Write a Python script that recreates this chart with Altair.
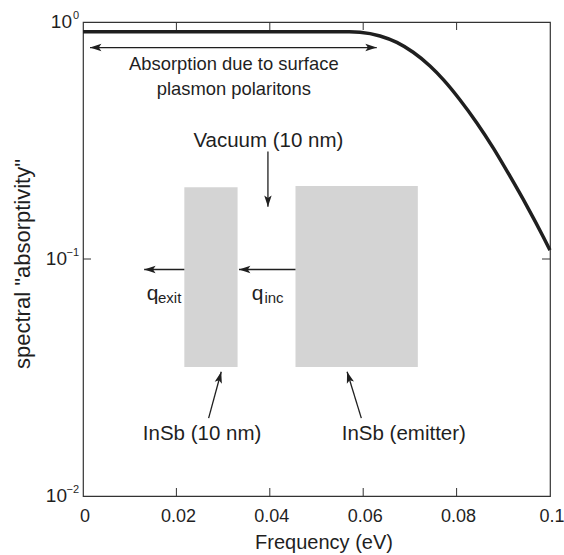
import altair as alt
import pandas as pd

FONT = "Liberation Sans"
INK = "#1f1f1f"
BOX = "#d4d4d4"
W, H = 467, 474

# ---- curve ----
freq = [0.0, 0.01, 0.02, 0.03, 0.04, 0.05, 0.057, 0.0593, 0.0636, 0.0672, 0.0707,
        0.0743, 0.0772, 0.0807, 0.0843, 0.0879, 0.0914, 0.0950, 0.0986, 0.1]
absorptivity = [0.91, 0.91, 0.91, 0.91, 0.91, 0.91, 0.909, 0.905, 0.873, 0.82, 0.745,
                0.652, 0.570, 0.470, 0.376, 0.293, 0.224, 0.168, 0.1236, 0.109]

# ---- axes ----
x_label_vals = [0, 0.02, 0.04, 0.06, 0.08, 0.1]
x_tick_vals = [0.02, 0.04, 0.06, 0.08]
y_tick_vals = [0.1]
y_label_vals = [1, 0.1, 0.01]
y_label_exp = ["0", "\u22121", "\u22122"]

# ---- schematic annotations (data coordinates) ----
box_x1 = [0.0217, 0.0455]
box_x2 = [0.0331, 0.0717]
box_y1 = [0.035, 0.035]
box_y2 = [0.201, 0.203]

seg_x1 = [0.0015, 0.0396, 0.0217, 0.0455, 0.0269, 0.0596]
seg_y1 = [0.78, 0.284, 0.0903, 0.0903, 0.0213, 0.0213]
seg_x2 = [0.0629, 0.0396, 0.0131, 0.0334, 0.0296, 0.05655]
seg_y2 = [0.78, 0.166, 0.0903, 0.0903, 0.03345, 0.03345]

head_x = [0.0015, 0.0629, 0.0396, 0.0131, 0.0334, 0.0296, 0.05655]
head_y = [0.78, 0.78, 0.166, 0.0903, 0.0903, 0.03345, 0.03345]
head_angle = [180, 0, 90, 180, 180, 285, 253]

small_text = ["Absorption due to surface", "plasmon polaritons"]
small_x = [0.0323, 0.0323]
small_y = [0.627, 0.492]

big_text = ["Vacuum (10 nm)", "InSb (10 nm)", "InSb (emitter)"]
big_x = [0.0397, 0.0255, 0.0687]
big_y = [0.2973, 0.01723, 0.01723]

q_x = [0.01366, 0.03615]
q_y = [0.0671, 0.0671]
sub_text = ["exit", "inc"]
sub_x = [0.01606, 0.03884]
sub_y = [0.0652, 0.0652]

xs = alt.Scale(domain=[0, 0.1], nice=False, zero=False)
ys = alt.Scale(type="log", domain=[0.01, 1], nice=False)


def X(field):
    return alt.X(field, type="quantitative", scale=xs, axis=None)


def Y(field):
    return alt.Y(field, type="quantitative", scale=ys, axis=None)


df_curve = pd.DataFrame({"freq": freq, "absorptivity": absorptivity})
df_boxes = pd.DataFrame({"x1": box_x1, "x2": box_x2, "y1": box_y1, "y2": box_y2})
df_seg = pd.DataFrame({"x1": seg_x1, "y1": seg_y1, "x2": seg_x2, "y2": seg_y2})
df_head = pd.DataFrame({"x": head_x, "y": head_y, "ang": head_angle})
df_small = pd.DataFrame({"t": small_text, "x": small_x, "y": small_y})
df_big = pd.DataFrame({"t": big_text, "x": big_x, "y": big_y})
df_q = pd.DataFrame({"t": ["q", "q"], "x": q_x, "y": q_y})
df_sub = pd.DataFrame({"t": sub_text, "x": sub_x, "y": sub_y})
df_xt = pd.DataFrame({"v": x_tick_vals})
df_xl = pd.DataFrame({"v": x_label_vals})
df_yt = pd.DataFrame({"v": y_tick_vals})
df_yl = pd.DataFrame({"v": y_label_vals, "sup": y_label_exp})

ARROW = "M0,0 L-2,-0.65 L-1.55,0 L-2,0.65 Z"

curve = alt.Chart(df_curve).mark_line(color=INK, strokeWidth=3.5, interpolate="monotone").encode(
    x=X("freq"), y=Y("absorptivity"))

boxes = alt.Chart(df_boxes).mark_rect(color=BOX).encode(
    x=X("x1"), x2=alt.X2("x2"), y=Y("y1"), y2=alt.Y2("y2"))

segs = alt.Chart(df_seg).mark_rule(color=INK, strokeWidth=1.3).encode(
    x=X("x1"), y=Y("y1"), x2=alt.X2("x2"), y2=alt.Y2("y2"))

heads = alt.Chart(df_head).mark_point(shape=ARROW, filled=True, color=INK, size=130,
                                       opacity=1, strokeWidth=0).encode(
    x=X("x"), y=Y("y"), angle=alt.Angle("ang:Q", scale=None))

small = alt.Chart(df_small).mark_text(font=FONT, fontSize=18.4, color=INK, align="center",
                                      baseline="alphabetic").encode(
    x=X("x"), y=Y("y"), text="t:N")

big = alt.Chart(df_big).mark_text(font=FONT, fontSize=20.5, color=INK, align="center",
                                  baseline="alphabetic").encode(
    x=X("x"), y=Y("y"), text="t:N")

qs = alt.Chart(df_q).mark_text(font=FONT, fontSize=21, color=INK, align="left",
                               baseline="alphabetic").encode(
    x=X("x"), y=Y("y"), text="t:N")

subs = alt.Chart(df_sub).mark_text(font=FONT, fontSize=15, color=INK, align="left",
                                   baseline="alphabetic").encode(
    x=X("x"), y=Y("y"), text="t:N")

tick_style = dict(color="#333333", strokeWidth=1)
xt_bottom = alt.Chart(df_xt).mark_rule(**tick_style).encode(
    x=X("v"), y=alt.value(H), y2=alt.value(H - 8))
xt_top = alt.Chart(df_xt).mark_rule(**tick_style).encode(
    x=X("v"), y=alt.value(0), y2=alt.value(8))
yt_left = alt.Chart(df_yt).mark_rule(**tick_style).encode(
    y=Y("v"), x=alt.value(0), x2=alt.value(8))
yt_right = alt.Chart(df_yt).mark_rule(**tick_style).encode(
    y=Y("v"), x=alt.value(W), x2=alt.value(W - 8))

# x tick labels
xlabels = alt.Chart(df_xl).transform_calculate(
    lab="format(datum.v, '~g')").mark_text(
    font=FONT, fontSize=18, color=INK, align="center", baseline="middle", dx=2).encode(
    x=X("v"), y=alt.value(H + 21), text="lab:N")

# y tick labels: "10" plus a raised exponent
ylab_base1 = alt.Chart(df_yl).transform_filter("length(datum.sup) == 1").mark_text(
    font=FONT, fontSize=19, color=INK, align="right", baseline="middle").encode(
    x=alt.value(-11), y=Y("v"), text=alt.value("10"))
ylab_base2 = alt.Chart(df_yl).transform_filter("length(datum.sup) == 2").mark_text(
    font=FONT, fontSize=19, color=INK, align="right", baseline="middle").encode(
    x=alt.value(-16), y=Y("v"), text=alt.value("10"))
ylab_sup = alt.Chart(df_yl).mark_text(
    font=FONT, fontSize=11, color=INK, align="right", baseline="middle", dy=-6).encode(
    x=alt.value(-4), y=Y("v"), text="sup:N")

xtitle = alt.Chart(pd.DataFrame({"t": ["Frequency (eV)"]})).mark_text(
    font=FONT, fontSize=20, color=INK, align="center", baseline="alphabetic").encode(
    x=alt.value(241), y=alt.value(527), text="t:N")

ytitle = alt.Chart(pd.DataFrame({"t": ['spectral "absorptivity"']})).mark_text(
    font=FONT, fontSize=22, color=INK, align="center", baseline="middle", angle=270).encode(
    x=alt.value(-60), y=alt.value(242), text="t:N")

chart = alt.layer(
    curve, boxes, segs, heads, small, big, qs, subs,
    xt_bottom, xt_top, yt_left, yt_right, xlabels,
    ylab_base1, ylab_base2, ylab_sup, xtitle, ytitle
).properties(
    width=W, height=H,
    autosize=alt.AutoSizeParams(type="none"),
    padding={"left": 83, "top": 22, "right": 14, "bottom": 59},
    background="white",
).configure_view(stroke="#333333", strokeWidth=1.2)

chart.save("out.html", embed_options={"renderer": "svg", "actions": False})
